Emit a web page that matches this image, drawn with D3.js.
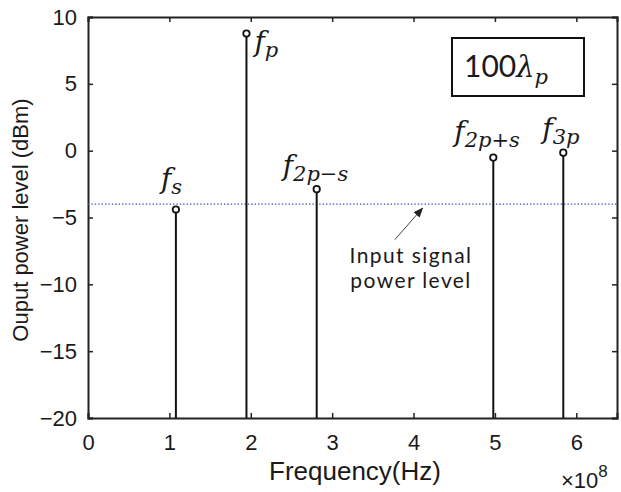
<!DOCTYPE html>
<html>
<head>
<meta charset="utf-8">
<script src="https://cdn.jsdelivr.net/npm/d3@7/dist/d3.min.js"></script>
<style>
  html, body { margin: 0; padding: 0; background: #fff; }
  text { font-family: "Liberation Sans", Arial, sans-serif; fill: #1a1a1a; }
  .math { font-family: "DejaVu Serif", "Liberation Serif", serif; font-style: italic; }
  .note { font-family: Lato, "Open Sans", sans-serif; }
</style>
</head>
<body>
<div id="chart"></div>
<script>
// tones seen at the output (Hz, dBm)
const toneSubs = ["s", "p", "2p\u2212s", "2p+s", "3p"];
const toneFreqs = [1.08e8, 1.947e8, 2.81e8, 4.98e8, 5.84e8];
const tonePower = [-4.4, 8.76, -2.88, -0.52, -0.15];
const inputLevel = -4;

const xTicks = [0, 1, 2, 3, 4, 5, 6];
const yTicks = [10, 5, 0, -5, -10, -15, -20];

// where each tone label sits relative to its marker
const labelOffsets = [[-15, -21], [8, 17], [-34, -14], [-39, -17], [-21, -15]];

const width = 621;
const height = 492;
const margin = { top: 17, left: 88, bottom: 74, right: 4 };

const svg = d3.select("#chart")
  .append("svg")
  .attr("width", width)
  .attr("height", height);

const x = d3.scaleLinear()
  .domain([0, 6.5e8])
  .range([margin.left, width - margin.right]);

const y = d3.scaleLinear()
  .domain([-20, 10])
  .range([height - margin.bottom, margin.top]);

const x0 = x.range()[0], x1 = x.range()[1];
const y0 = y.range()[0], y1 = y.range()[1];

// axes with inward ticks on all four sides
const fmtX = (d) => d / 1e8;
svg.append("g")
  .attr("transform", `translate(0,${y0})`)
  .call(d3.axisBottom(x).tickValues(xTicks.map((d) => d * 1e8)).tickSize(-5).tickPadding(16).tickFormat(fmtX))
  .call((g) => g.selectAll("text").attr("font-size", 22));
svg.append("g")
  .attr("transform", `translate(0,${y1})`)
  .call(d3.axisTop(x).tickValues(xTicks.map((d) => d * 1e8)).tickSize(-5).tickFormat(""));
svg.append("g")
  .attr("transform", `translate(${x0},0)`)
  .call(d3.axisLeft(y).tickValues(yTicks).tickSize(-5).tickPadding(11))
  .call((g) => g.selectAll("text").attr("font-size", 22));
svg.append("g")
  .attr("transform", `translate(${x1},0)`)
  .call(d3.axisRight(y).tickValues(yTicks).tickSize(-5).tickFormat(""));

svg.selectAll(".domain").attr("stroke", "#222").attr("stroke-width", 2);
svg.selectAll(".tick line").attr("stroke", "#222").attr("stroke-width", 1.5);
svg.selectAll(".tick text").attr("fill", "#1a1a1a");

// input signal power reference line
svg.append("line")
  .attr("x1", x0).attr("x2", x1)
  .attr("y1", y(inputLevel)).attr("y2", y(inputLevel))
  .attr("stroke", "#3d4fd0")
  .attr("stroke-width", 1.4)
  .attr("stroke-dasharray", "1.4,2");

// stems
const tones = toneFreqs.map((f, i) => ({ f, p: tonePower[i], sub: toneSubs[i], off: labelOffsets[i] }));

svg.selectAll(".stem")
  .data(tones)
  .enter()
  .append("line")
  .attr("class", "stem")
  .attr("x1", (d) => x(d.f)).attr("x2", (d) => x(d.f))
  .attr("y1", y(-20)).attr("y2", (d) => y(d.p))
  .attr("stroke", "#111")
  .attr("stroke-width", 2);

svg.selectAll(".mark")
  .data(tones)
  .enter()
  .append("circle")
  .attr("class", "mark")
  .attr("cx", (d) => x(d.f))
  .attr("cy", (d) => y(d.p))
  .attr("r", 3.2)
  .attr("fill", "#fff")
  .attr("stroke", "#111")
  .attr("stroke-width", 1.8);

// f labels with subscripts
const lbl = svg.selectAll(".tone-label")
  .data(tones)
  .enter()
  .append("text")
  .attr("class", "tone-label math")
  .attr("x", (d) => x(d.f) + d.off[0])
  .attr("y", (d) => y(d.p) + d.off[1])
  .attr("font-size", 28);
lbl.append("tspan").text("f");
lbl.append("tspan")
  .attr("dx", 0)
  .attr("dy", 6)
  .attr("font-size", 21)
  .text((d) => d.sub);

// boxed annotation
svg.append("rect")
  .attr("x", 452).attr("y", 38)
  .attr("width", 132).attr("height", 58)
  .attr("fill", "#fff")
  .attr("stroke", "#111")
  .attr("stroke-width", 2);
const box = svg.append("text")
  .attr("x", 464).attr("y", 77)
  .attr("font-size", 30);
box.append("tspan").attr("class", "note").text("100");
box.append("tspan").attr("class", "math").attr("font-size", 29).text("\u03bb");
box.append("tspan").attr("class", "math").attr("dy", 7).attr("font-size", 21).text("p");

// arrow pointing at the reference line
svg.append("defs").append("marker")
  .attr("id", "head")
  .attr("viewBox", "0 0 10 10")
  .attr("refX", 9).attr("refY", 5)
  .attr("markerWidth", 10).attr("markerHeight", 10)
  .attr("orient", "auto")
  .append("path")
  .attr("d", "M0,1 L10,5 L0,9 z")
  .attr("fill", "#222");
svg.append("line")
  .attr("x1", x(3.77e8)).attr("y1", y(-6.66))
  .attr("x2", x(4.11e8)).attr("y2", y(-4.3))
  .attr("stroke", "#444")
  .attr("stroke-width", 1)
  .attr("marker-end", "url(#head)");

const note = svg.append("text")
  .attr("class", "note")
  .attr("text-anchor", "middle")
  .attr("letter-spacing", 1.4)
  .attr("font-size", 21);
note.append("tspan").attr("x", 411).attr("y", 263).text("Input signal");
note.append("tspan").attr("x", 411).attr("y", 288).text("power level");

// axis titles
svg.append("text")
  .attr("text-anchor", "middle")
  .attr("x", 355)
  .attr("y", 480)
  .attr("font-size", 26)
  .text("Frequency(Hz)");

svg.append("text")
  .attr("text-anchor", "middle")
  .attr("transform", `translate(28,220) rotate(-90)`)
  .attr("font-size", 22)
  .text("Ouput power level (dBm)");

const exp = svg.append("text")
  .attr("x", 561).attr("y", 488)
  .attr("font-size", 22);
exp.append("tspan").text("\u00d710");
exp.append("tspan").attr("dy", -11).attr("font-size", 17).text("8");
</script>
</body>
</html>
